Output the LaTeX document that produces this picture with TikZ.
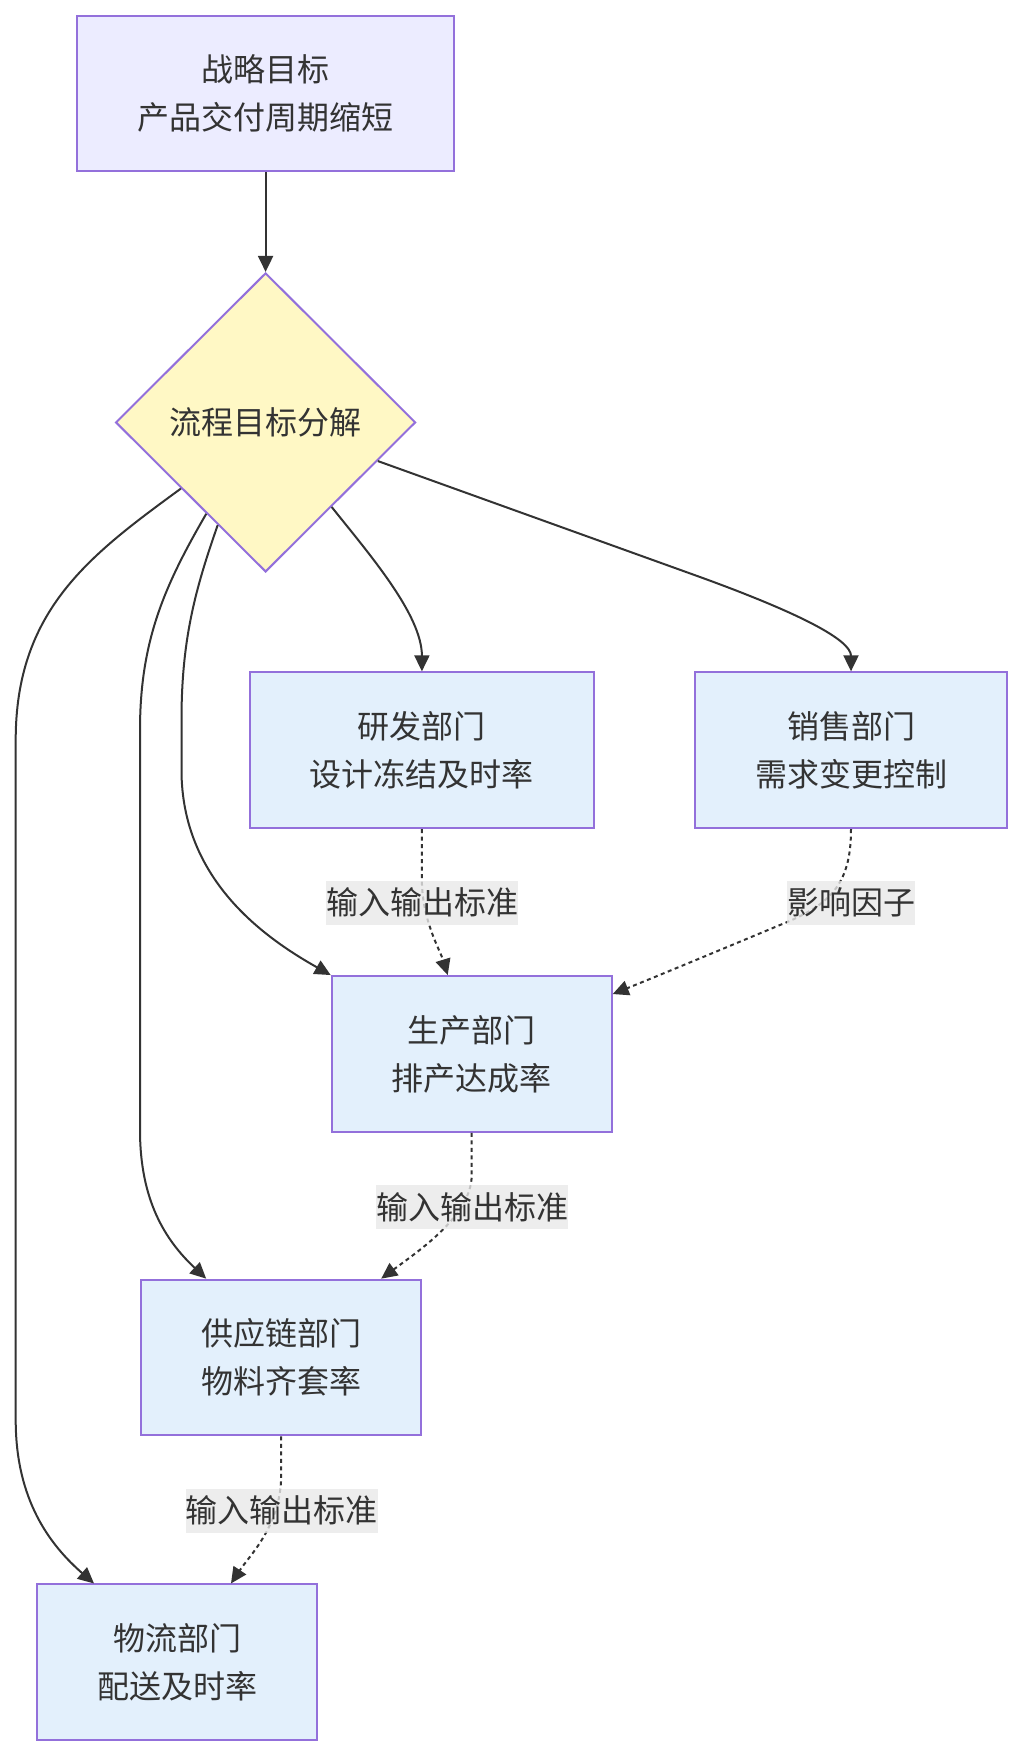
\documentclass[tikz,border=0pt]{standalone}
\usepackage{fontspec}
\setmainfont{Noto Sans CJK SC}
\usetikzlibrary{shapes.geometric,arrows.meta,calc}
\definecolor{edgec}{HTML}{333333}
\definecolor{textc}{HTML}{333333}
\definecolor{nodeborder}{HTML}{9370DB}
\definecolor{topfill}{HTML}{ECECFF}
\definecolor{decfill}{HTML}{FFF8C5}
\definecolor{boxfill}{HTML}{E3F0FC}
\definecolor{lblfill}{HTML}{E8E8E8}
\begin{document}
\begin{tikzpicture}[x=1pt,y=-1pt,
  txt/.style={text=textc, font=\fontsize{32}{48}\selectfont},
  box/.style={txt, draw=nodeborder, line width=2pt, fill=boxfill, minimum height=155.7pt, inner sep=0pt, align=center},
  topbox/.style={box, fill=topfill},
  decision/.style={txt, diamond, aspect=1, draw=nodeborder, line width=2pt, fill=decfill, minimum width=300pt, minimum height=299pt, inner sep=0pt},
  elabel/.style={txt, fill=lblfill, fill opacity=0.8, text opacity=1, inner sep=0pt, minimum height=44pt},
  link/.style={draw=edgec, line width=2pt, -{Triangle[length=16pt,width=15pt]}},
  dotlink/.style={link, dash pattern=on 4pt off 3.5pt}
]
\useasboundingbox (0,0) rectangle (1023,1756);

\node[topbox, minimum width=376.5pt] (A) at (265.6,93.5) {战略目标\\产品交付周期缩短};
\node[decision] (B) at (265.6,422.4) {流程目标分解};
\node[box, minimum width=344pt] (C) at (421.9,750.2) {研发部门\\设计冻结及时率};
\node[box, minimum width=312.6pt] (D) at (851,750.2) {销售部门\\需求变更控制};
\node[box, minimum width=280pt] (E) at (471.7,1053.9) {生产部门\\排产达成率};
\node[box, minimum width=280pt] (F) at (281.2,1357.5) {供应链部门\\物料齐套率};
\node[box, minimum width=280pt] (G) at (177,1662.3) {物流部门\\配送及时率};

% solid edges
\draw[link] (A.south) -- (B.north);
\draw[link] (B.308.3) .. controls (370,555) and (421.9,615) .. (C.north);
\draw[link] (B.341.4) -- (700,577) .. controls (800,613.3) and (851,640) .. (D.north);
\draw[link] (B.245) .. controls (195,590) and (181.5,640) .. (181.5,720) -- (181.5,770)
  .. controls (181.5,880) and (265,938) .. (E.north west);
\draw[link] (B.237.9) .. controls (165,585) and (140,640) .. (140,730) -- (140,1130)
  .. controls (140,1200) and (165,1240) .. ($(F.north west)+(66,0)$);
\draw[link] (B.218.6) .. controls (90,555) and (15.7,610) .. (15.7,740) -- (15.7,1420)
  .. controls (15.7,1500) and (50,1545) .. ($(G.north west)+(58,0)$);

% dotted edges
\draw[dotlink] (C.south) -- (421.9,880) .. controls (421.9,920) and (440,950) .. ($(E.north)+(-24,0)$);
\draw[dotlink] (D.south) .. controls (851,885) and (830,905) .. (780,925)
  .. controls (720,950) and (660,975) .. (E.23.5);
\draw[dotlink] (E.south) -- (471.7,1175) .. controls (471.7,1215) and (420,1250) .. ($(F.north)+(100,0)$);
\draw[dotlink] (F.south) -- (281.2,1475) .. controls (281.2,1525) and (250,1555) .. ($(G.north)+(54,0)$);

% edge labels
\node[elabel, minimum width=191.6pt] (L1) at (422.4,902.6) {输入输出标准};
\node[elabel, minimum width=128.9pt] (L2) at (851,902.6) {影响因子};
\node[elabel, minimum width=191.6pt] (L3) at (472.3,1206.8) {输入输出标准};
\node[elabel, minimum width=191.6pt] (L4) at (281.8,1510.5) {输入输出标准};
\end{tikzpicture}
\end{document}
